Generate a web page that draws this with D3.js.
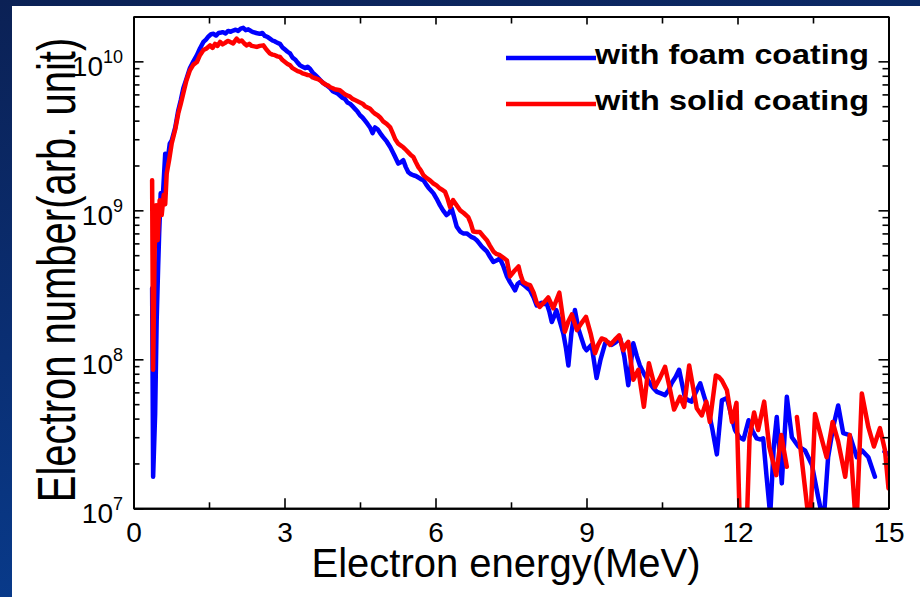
<!DOCTYPE html>
<html>
<head>
<meta charset="utf-8">
<script src="https://cdn.jsdelivr.net/npm/d3@7"></script>
<style>
  html, body { margin: 0; padding: 0; background: #0b2a6b; }
  svg { display: block; }
  text { font-family: "Liberation Sans", Arial, sans-serif; fill: #000; }
</style>
</head>
<body>
<svg id="chart" width="920" height="597"></svg>
<script>
// Electron energy spectra (MeV) and electron numbers (arb. unit); null marks an empty bin
const foamEnergy = [0.37,0.39,0.43,0.46,0.49,0.51,0.54,0.58,0.63,0.68,0.72,0.76,0.83,0.89,0.94,0.99,1.05,1.12,1.19,1.26,1.32,1.39,1.44,1.49,1.54,1.59,1.64,1.69,1.74,1.78,1.83,1.88,1.93,1.98,2.03,2.08,2.13,2.18,2.23,2.28,2.33,2.38,2.44,2.51,2.56,2.61,2.66,2.71,2.76,2.81,2.86,2.91,2.96,3.01,3.06,3.11,3.16,3.21,3.26,3.31,3.36,3.41,3.46,3.51,3.56,3.61,3.66,3.71,3.76,3.81,3.86,3.91,3.96,4.00,4.05,4.10,4.15,4.20,4.25,4.30,4.35,4.40,4.45,4.50,4.55,4.60,4.65,4.70,4.75,4.80,4.85,4.90,4.96,5.03,5.10,5.18,5.26,5.31,5.36,5.41,5.46,5.51,5.56,5.61,5.66,5.71,5.76,5.81,5.86,5.91,5.96,6.02,6.09,6.15,6.22,6.27,6.32,6.37,6.42,6.49,6.55,6.62,6.67,6.72,6.77,6.82,6.87,6.92,6.97,7.02,7.08,7.15,7.21,7.28,7.35,7.42,7.48,7.53,7.58,7.63,7.68,7.73,7.78,7.83,7.88,7.95,8.01,8.06,8.11,8.16,8.21,8.26,8.31,8.36,8.40,8.47,8.54,8.59,8.64,8.70,8.77,8.84,8.91,8.96,9.00,9.05,9.10,9.20,9.28,9.37,9.43,9.50,9.58,9.67,9.75,9.83,9.93,10.00,10.06,10.16,10.26,10.33,10.40,10.48,10.56,10.63,10.69,10.77,10.84,10.90,10.96,11.03,11.09,11.17,11.26,11.34,11.42,11.50,11.59,11.69,11.79,11.87,11.95,12.04,12.12,12.22,12.30,12.38,12.45,12.51,12.58,12.65,12.72,12.78,12.88,12.98,13.08,13.21,13.34,13.48,13.60,13.71,13.80,13.90,14.00,14.10,14.23,14.37,14.47,14.60,14.73,14.85,14.92,15.00];
const foamCount = [3.0e8,1.63e7,4.3e7,1.8e8,4.2e8,7e8,1.3e9,1.2e9,2.4e9,2.2e9,2.8e9,2.95e9,3.6e9,4.7e9,5.5e9,6.6e9,7.6e9,9.0e9,1.0e10,1.1e10,1.22e10,1.35e10,1.4e10,1.47e10,1.52e10,1.53e10,1.49e10,1.55e10,1.56e10,1.57e10,1.54e10,1.6e10,1.58e10,1.61e10,1.63e10,1.6e10,1.66e10,1.68e10,1.62e10,1.64e10,1.6e10,1.57e10,1.55e10,1.53e10,1.55e10,1.48e10,1.46e10,1.42e10,1.38e10,1.36e10,1.33e10,1.31e10,1.24e10,1.2e10,1.16e10,1.13e10,1.06e10,1.03e10,9.8e9,9.4e9,9.2e9,9.0e9,9.2e9,8.9e9,8.4e9,8.1e9,7.8e9,7.5e9,7.2e9,7.0e9,6.8e9,6.6e9,6.3e9,6.2e9,6.1e9,5.9e9,5.7e9,5.6e9,5.3e9,5.2e9,5.0e9,4.8e9,4.6e9,4.35e9,4.2e9,4.0e9,3.8e9,3.6e9,3.3e9,3.6e9,3.5e9,3.3e9,3.1e9,2.9e9,2.66e9,2.35e9,2.06e9,2.1e9,2.17e9,1.95e9,1.8e9,1.75e9,1.72e9,1.7e9,1.66e9,1.62e9,1.59e9,1.5e9,1.42e9,1.36e9,1.3e9,1.2e9,1.08e9,1.0e9,9.3e8,9.6e8,1.03e9,9.0e8,7.8e8,7.2e8,7.0e8,7.0e8,6.8e8,6.6e8,6.5e8,6.3e8,6.0e8,5.7e8,5.5e8,5.3e8,4.9e8,4.5e8,4.6e8,4.75e8,4.2e8,3.6e8,3.3e8,3.1e8,2.9e8,3.2e8,3.3e8,3.2e8,3.1e8,3.0e8,2.9e8,2.6e8,2.3e8,2.35e8,2.4e8,2.35e8,2.37e8,2.1e8,1.78e8,1.95e8,2.14e8,1.8e8,1.49e8,1.2e8,9.1e7,1.5e8,2.14e8,1.6e8,1.35e8,1.2e8,1.15e8,1.2e8,1.25e8,7.5e7,1.0e8,1.28e8,1.3e8,1.25e8,1.3e8,1.38e8,1.05e8,6.7e7,1.28e8,1.05e8,9.1e7,7.8e7,6.9e7,6.4e7,6.05e7,5.9e7,5.75e7,6.2e7,6.9e7,7.6e7,8.5e7,6.8e7,5.5e7,5.3e7,5.2e7,6.0e7,6.9e7,5.6e7,4.6e7,3.4e7,2.3e7,5.3e7,5.5e7,4.3e7,3.35e7,3.0e7,2.9e7,3.9e7,3.3e7,2.95e7,2.9e7,2.95e7,1.6e7,9e6,2.6e7,4.1e7,1.47e7,5.6e7,3.0e7,2.6e7,2.45e7,1.95e7,1.2e7,8e6,2.2e7,3.5e7,4.9e7,3.2e7,3.1e7,2.2e7,2.45e7,2.2e7,1.63e7,null,2.4e7,2.3e7];

const solidEnergy = [0.37,0.39,0.42,0.45,0.48,0.52,0.56,0.60,0.63,0.66,0.71,0.76,0.83,0.89,0.94,0.99,1.05,1.12,1.19,1.26,1.32,1.39,1.45,1.52,1.57,1.62,1.67,1.72,1.77,1.82,1.87,1.92,1.98,2.05,2.10,2.15,2.20,2.25,2.30,2.35,2.40,2.45,2.51,2.58,2.64,2.71,2.76,2.81,2.86,2.91,2.96,3.01,3.06,3.11,3.16,3.21,3.26,3.31,3.36,3.41,3.46,3.51,3.56,3.61,3.66,3.71,3.76,3.81,3.86,3.91,3.96,4.00,4.05,4.10,4.15,4.20,4.25,4.30,4.35,4.40,4.45,4.50,4.55,4.60,4.65,4.70,4.75,4.80,4.85,4.90,4.96,5.03,5.10,5.15,5.20,5.26,5.30,5.36,5.41,5.46,5.51,5.56,5.61,5.66,5.71,5.76,5.82,5.89,5.95,6.02,6.09,6.14,6.19,6.24,6.29,6.35,6.42,6.49,6.56,6.65,6.70,6.75,6.82,6.88,6.95,7.02,7.08,7.15,7.21,7.28,7.35,7.42,7.48,7.56,7.65,7.69,7.74,7.81,7.88,7.95,8.01,8.07,8.15,8.24,8.34,8.46,8.57,8.64,8.71,8.81,8.90,8.99,9.08,9.17,9.23,9.30,9.38,9.47,9.56,9.65,9.73,9.78,9.83,9.93,10.03,10.14,10.24,10.36,10.46,10.56,10.65,10.74,10.86,10.94,11.04,11.19,11.29,11.38,11.45,11.57,11.63,11.69,11.79,11.89,11.98,12.05,12.18,12.24,12.33,12.41,12.53,12.63,12.77,12.87,12.98,13.08,13.18,13.44,13.54,13.77,13.89,14.00,14.14,14.23,14.36,14.47,14.60,14.71,14.83,14.93,15.00];
const solidCount = [1.59e9,8.5e7,5.4e8,1.08e9,6.3e8,1.17e9,9.3e8,1.27e9,1.1e9,1.77e9,2.2e9,2.82e9,3.5e9,4.48e9,5.2e9,6.1e9,7.4e9,8.7e9,9.5e9,9.9e9,1.1e10,1.19e10,1.22e10,1.28e10,1.23e10,1.31e10,1.27e10,1.35e10,1.3e10,1.33e10,1.37e10,1.35e10,1.32e10,1.42e10,1.36e10,1.38e10,1.32e10,1.28e10,1.31e10,1.27e10,1.26e10,1.25e10,1.27e10,1.28e10,1.2e10,1.13e10,1.11e10,1.1e10,1.08e10,1.07e10,1.02e10,9.9e9,9.6e9,9.4e9,9.0e9,8.8e9,8.6e9,8.5e9,8.3e9,8.2e9,8.1e9,8.05e9,7.8e9,7.7e9,7.6e9,7.45e9,7.2e9,7.0e9,6.9e9,6.7e9,6.6e9,6.5e9,6.45e9,6.4e9,6.2e9,6.0e9,5.9e9,5.8e9,5.6e9,5.5e9,5.4e9,5.3e9,5.2e9,5.0e9,4.9e9,4.8e9,4.6e9,4.45e9,4.35e9,4.2e9,3.95e9,3.8e9,3.6e9,3.3e9,3.0e9,2.8e9,2.74e9,2.65e9,2.55e9,2.45e9,2.35e9,2.28e9,2.1e9,1.95e9,1.85e9,1.72e9,1.65e9,1.59e9,1.52e9,1.47e9,1.4e9,1.37e9,1.33e9,1.2e9,1.05e9,1.17e9,1.08e9,1.0e9,9.6e8,9.0e8,8.2e8,7.2e8,7.15e8,7.15e8,6.7e8,6.3e8,5.8e8,5.3e8,5.1e8,5.0e8,4.8e8,4.6e8,3.6e8,3.9e8,4.2e8,3.7e8,3.3e8,3.2e8,3.15e8,2.8e8,2.4e8,2.25e8,2.4e8,2.6e8,2.2e8,2.8e8,1.53e8,1.8e8,2.0e8,1.57e8,1.75e8,1.93e8,1.5e8,1.1e8,1.25e8,1.38e8,1.35e8,1.25e8,1.35e8,1.45e8,1.15e8,1.25e8,1.31e8,7.3e7,8.5e7,4.8e7,9.4e7,6.5e7,7.5e7,8.9e7,6.5e7,4.6e7,5.6e7,4.8e7,9.1e7,4.7e7,4.2e7,5.2e7,3.8e7,7.8e7,7.6e7,7.2e7,6.2e7,3.8e7,5.1e7,7e6,7e6,3.0e7,4.4e7,3.35e7,5.2e7,2.6e7,1.67e7,3.1e7,1.9e7,null,4.1e7,7e6,4.3e7,2.2e7,3.8e7,2.8e7,1.63e7,3.1e7,7e6,5.9e7,3.5e7,2.6e7,3.45e7,2.45e7,1.36e7];

const seriesNames = ["with foam coating", "with solid coating"];
const seriesColors = ["#0000ff", "#ff0000"];
const xTicks = [0, 3, 6, 9, 12, 15];
const xMinorTicks = [1.5, 4.5, 7.5, 10.5, 13.5];
const yTickExponents = [7, 8, 9, 10];
const xTitle = "Electron energy(MeV)";
const yTitle = "Electron number(arb. unit)";

const svg = d3.select("#chart");
const W = 920, H = 597;
const plot = { left: 133.5, right: 888.5, top: 16.5, bottom: 508.3 };

// backdrop: navy slide background with a white panel
const defs = svg.append("defs");
const grad = defs.append("linearGradient").attr("id", "bg").attr("x1", 0).attr("y1", 0).attr("x2", 0.3).attr("y2", 1);
grad.append("stop").attr("offset", "0%").attr("stop-color", "#0b2155");
grad.append("stop").attr("offset", "55%").attr("stop-color", "#0a2f74");
grad.append("stop").attr("offset", "100%").attr("stop-color", "#083c8e");
svg.append("rect").attr("width", W).attr("height", H).attr("fill", "url(#bg)");
svg.append("rect").attr("x", 12).attr("y", 6).attr("width", W - 12).attr("height", H - 6).attr("fill", "#fff");

defs.append("clipPath").attr("id", "plotClip").append("rect")
  .attr("x", plot.left).attr("y", plot.top)
  .attr("width", plot.right - plot.left).attr("height", plot.bottom - plot.top);

const x = d3.scaleLinear().domain([0, 15]).range([plot.left, plot.right]);
const y = d3.scaleLog().domain([1e7, 2e10]).range([plot.bottom, plot.top]);

// curves
const line = d3.line()
  .defined(d => d[1] != null)
  .x(d => x(d[0]))
  .y(d => y(d[1]));

const series = [
  d3.zip(foamEnergy, foamCount),
  d3.zip(solidEnergy, solidCount)
];
const gLines = svg.append("g").attr("clip-path", "url(#plotClip)");
series.forEach((s, i) => {
  gLines.append("path")
    .datum(s)
    .attr("fill", "none")
    .attr("stroke", seriesColors[i])
    .attr("stroke-width", 4.5)
    .attr("stroke-linejoin", "round")
    .attr("stroke-linecap", "round")
    .attr("d", line);
});

// axes with inward ticks on all four sides
const yMinor = [];
for (let e = 7; e <= 10; e++) for (let k = 2; k <= 9; k++) {
  const v = k * Math.pow(10, e);
  if (v <= 2e10) yMinor.push(v);
}
const yMajor = yTickExponents.map(e => Math.pow(10, e));

function styleAxis(g) {
  g.selectAll("path.domain").attr("stroke", "#000").attr("stroke-width", 2);
  g.selectAll(".tick line").attr("stroke", "#000").attr("stroke-width", 1.6);
}

svg.append("g").attr("transform", `translate(0,${plot.bottom})`)
  .call(d3.axisBottom(x).tickValues(xTicks).tickSize(-10).tickSizeOuter(0).tickPadding(14).tickFormat(d3.format("d")))
  .call(styleAxis)
  .call(g => g.selectAll("text").attr("font-size", 28).attr("fill", "#000"));
svg.append("g").attr("transform", `translate(0,${plot.bottom})`)
  .call(d3.axisBottom(x).tickValues(xMinorTicks).tickSize(-6).tickSizeOuter(0).tickFormat(""))
  .call(styleAxis);
svg.append("g").attr("transform", `translate(0,${plot.top})`)
  .call(d3.axisTop(x).tickValues(xTicks).tickSize(-8).tickSizeOuter(0).tickFormat(""))
  .call(styleAxis);
svg.append("g").attr("transform", `translate(0,${plot.top})`)
  .call(d3.axisTop(x).tickValues(xMinorTicks).tickSize(-7).tickSizeOuter(0).tickFormat(""))
  .call(styleAxis);

svg.append("g").attr("transform", `translate(${plot.left},0)`)
  .call(d3.axisLeft(y).tickValues(yMajor).tickSize(-10).tickSizeOuter(0).tickFormat(""))
  .call(styleAxis);
svg.append("g").attr("transform", `translate(${plot.left},0)`)
  .call(d3.axisLeft(y).tickValues(yMinor).tickSize(-6).tickSizeOuter(0).tickFormat(""))
  .call(styleAxis);
svg.append("g").attr("transform", `translate(${plot.right},0)`)
  .call(d3.axisRight(y).tickValues(yMajor).tickSize(-10).tickSizeOuter(0).tickFormat(""))
  .call(styleAxis);
svg.append("g").attr("transform", `translate(${plot.right},0)`)
  .call(d3.axisRight(y).tickValues(yMinor).tickSize(-6).tickSizeOuter(0).tickFormat(""))
  .call(styleAxis);

// power-of-ten labels on the y axis
const yLab = svg.append("g");
yTickExponents.forEach(e => {
  const t = yLab.append("text")
    .attr("x", 123)
    .attr("y", y(Math.pow(10, e)) + 15)
    .attr("text-anchor", "end")
    .attr("font-size", 28);
  t.append("tspan").text("10");
  t.append("tspan").attr("dy", -13).attr("font-size", 18).text(String(e));
});

// axis titles
svg.append("text")
  .attr("x", 506)
  .attr("y", 577)
  .attr("text-anchor", "middle")
  .attr("font-size", 40)
  .text(xTitle);
svg.append("text")
  .attr("transform", `translate(75,270) scale(1.32,1) rotate(-90)`)
  .attr("text-anchor", "middle")
  .attr("font-size", 40)
  .text(yTitle);

// legend
const legendY = [58, 104];
seriesNames.forEach((name, i) => {
  svg.append("line")
    .attr("x1", 506).attr("x2", 596)
    .attr("y1", legendY[i]).attr("y2", legendY[i])
    .attr("stroke", seriesColors[i]).attr("stroke-width", 4.5);
  svg.append("text")
    .attr("x", 595)
    .attr("y", legendY[i] + 5.5)
    .attr("font-size", 27)
    .attr("font-weight", "bold")
    .attr("textLength", 274)
    .attr("lengthAdjust", "spacingAndGlyphs")
    .text(name);
});
</script>
</body>
</html>
